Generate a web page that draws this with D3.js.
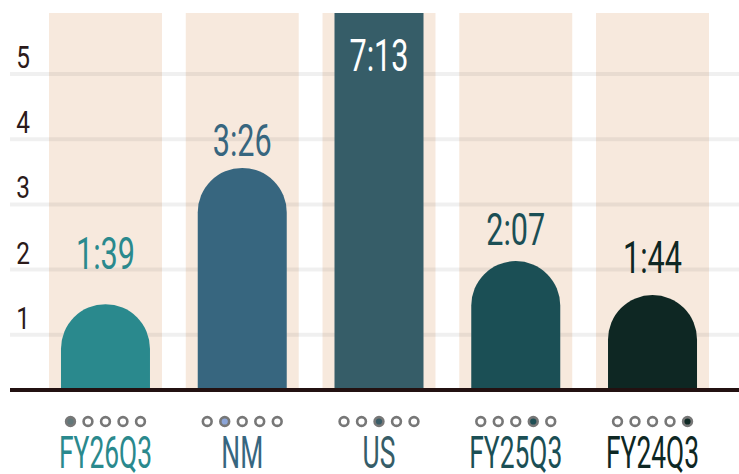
<!DOCTYPE html>
<html><head><meta charset="utf-8">
<script src="https://cdn.jsdelivr.net/npm/d3@7"></script>
<style>html,body{margin:0;padding:0;background:#fff;} svg{display:block}</style>
</head><body><svg id="c" width="739" height="474"></svg>
<script>
const categories = ["FY26Q3", "NM", "US", "FY25Q3", "FY24Q3"];
const values = [1.47, 3.56, 7.22, 2.13, 1.61];
const valueLabels = ["1:39", "3:26", "7:13", "2:07", "1:44"];
const labelLevels = [2.01, 3.75, 5.04, 2.38, 1.95];
const yTicks = [1, 2, 3, 4, 5];

const colors = ["#2a898d", "#37667f", "#365d68", "#1b4f55", "#0e2723"];
const dotFills = ["#62777a", "#8ca5d8", "#3a5d68", "#1f4f55", "#0f2a25"];
const valueLabelColors = ["#2a898d", "#37667f", "#ffffff", "#1b4f55", "#0e2723"];

const W = 739, H = 474;
const plotTop = 13, plotBottom = 390;
const svg = d3.select("#c");
const FONT = "Roboto, 'Liberation Sans', sans-serif";

const x = d3.scaleBand().domain(categories).range([49, 709]).paddingInner(0.174).paddingOuter(0);
const y = d3.scaleLinear().domain([0, 5]).range([400, 74]);

svg.append("defs").append("clipPath").attr("id", "plotclip")
  .append("rect").attr("x", 0).attr("y", plotTop).attr("width", W).attr("height", H - plotTop);

// stripes
svg.append("g").selectAll("rect").data(categories).join("rect")
  .attr("x", d => x(d)).attr("y", plotTop)
  .attr("width", x.bandwidth()).attr("height", plotBottom - plotTop)
  .attr("fill", "#f7e9dd");

// gridlines
svg.append("g").selectAll("line").data(yTicks).join("line")
  .attr("x1", 10).attr("x2", W)
  .attr("y1", d => y(d)).attr("y2", d => y(d))
  .attr("stroke", "#000").attr("stroke-opacity", 0.06).attr("stroke-width", 4);

// y labels
svg.append("g").selectAll("text").data(yTicks).join("text")
  .attr("transform", d => `translate(23,${y(d) - 6}) scale(0.8,1)`)
  .attr("text-anchor", "middle")
  .attr("font-family", FONT).attr("font-size", 30.5)
  .attr("fill", "#2b1a1a")
  .text(d => d);

// bars
const barW = 89, r = barW / 2;
svg.append("g").attr("clip-path", "url(#plotclip)")
  .selectAll("path").data(categories).join("path")
  .attr("d", (d, i) => {
    const cx = x(d) + x.bandwidth() / 2;
    const t = y(values[i]);
    return `M${cx - r},${plotBottom} L${cx - r},${t + r} A${r},${r} 0 0 1 ${cx + r},${t + r} L${cx + r},${plotBottom} Z`;
  })
  .attr("fill", (d, i) => colors[i]);

// baseline
svg.append("line").attr("x1", 10).attr("x2", W)
  .attr("y1", plotBottom).attr("y2", plotBottom)
  .attr("stroke", "#231111").attr("stroke-width", 4);

// value labels
svg.append("g").selectAll("text").data(categories).join("text")
  .attr("transform", (d, i) => `translate(${x(d) + x.bandwidth() / 2},${y(labelLevels[i])}) scale(0.68,1)`)
  .attr("text-anchor", "middle")
  .attr("font-family", FONT).attr("font-size", 45)
  .attr("fill", (d, i) => valueLabelColors[i])
  .text((d, i) => valueLabels[i]);

// dots
const dotG = svg.append("g");
categories.forEach((c, i) => {
  const cx = x(c) + x.bandwidth() / 2;
  dotG.selectAll(null).data(categories).join("circle")
    .attr("cx", (d, j) => cx + (j - 2) * 17.5)
    .attr("cy", 421.5)
    .attr("r", 4.4)
    .attr("fill", (d, j) => j === i ? dotFills[i] : "#fff")
    .attr("stroke", "#777").attr("stroke-width", 2.6);
});

// category labels
svg.append("g").selectAll("text").data(categories).join("text")
  .attr("transform", d => `translate(${x(d) + x.bandwidth() / 2},468) scale(0.6,1)`)
  .attr("text-anchor", "middle")
  .attr("font-family", FONT).attr("font-size", 44)
  .attr("fill", (d, i) => colors[i])
  .text(d => d);
</script>
</body></html>
